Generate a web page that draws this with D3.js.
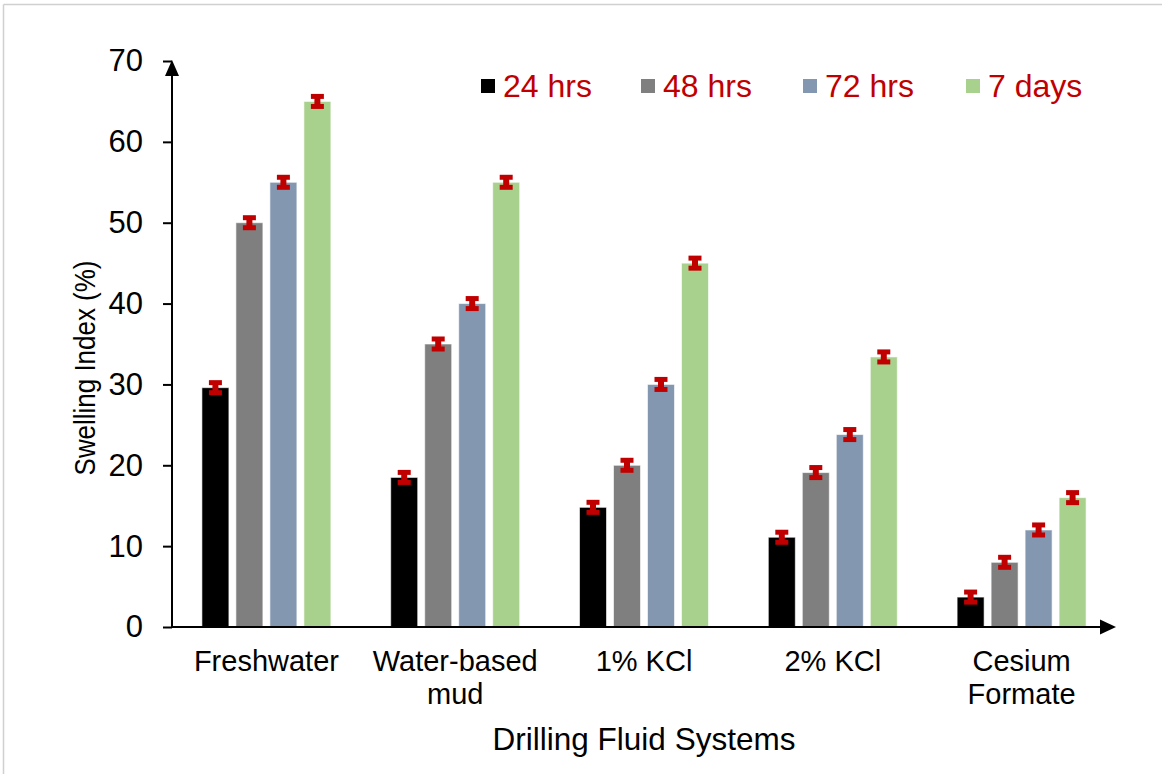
<!DOCTYPE html>
<html><head><meta charset="utf-8">
<script src="https://cdn.jsdelivr.net/npm/d3@7"></script>
<style>body{margin:0;background:#fff;} text{font-family:"Liberation Sans",Arial,sans-serif;}</style>
</head><body>
<svg id="c" width="1162" height="774"></svg>
<script>
const categories = [["Freshwater"], ["Water-based", "mud"], ["1% KCl"], ["2% KCl"], ["Cesium", "Formate"]];
const seriesNames = ["24 hrs", "48 hrs", "72 hrs", "7 days"];
const s24 = [29.6, 18.5, 14.8, 11.1, 3.7];
const s48 = [50, 35, 20, 19.1, 8];
const s72 = [55, 40, 30, 23.8, 12];
const s7d = [65, 55, 45, 33.4, 16];
const errors = [0.62, 0.62, 0.62, 0.62];
const yTicks = [0, 10, 20, 30, 40, 50, 60, 70];
const colors = ["#000000", "#7f7f7f", "#8497b0", "#a9d18e"];
const errColor = "#c00000";

const values = [s24, s48, s72, s7d];
const svg = d3.select("#c");

// frame lines
svg.append("line").attr("x1",3.5).attr("x2",1162).attr("y1",4.5).attr("y2",4.5).attr("stroke","#d0d0d0").attr("stroke-width",1.5);
svg.append("line").attr("x1",3.5).attr("x2",3.5).attr("y1",4.5).attr("y2",774).attr("stroke","#d0d0d0").attr("stroke-width",1.5);

const x0 = d3.scaleBand().domain(d3.range(categories.length)).range([172, 1116]).padding(0);
const x1 = d3.scaleBand().domain(d3.range(seriesNames.length)).range([0, x0.bandwidth()]).paddingInner(0.206).paddingOuter(0.88);
const y = d3.scaleLinear().domain([0, 70]).range([627, 61]);

// bars
const g = svg.append("g");
categories.forEach((c, ci) => {
  values.forEach((s, si) => {
    g.append("rect")
      .attr("x", x0(ci) + x1(si))
      .attr("y", y(s[ci]))
      .attr("width", x1.bandwidth())
      .attr("height", y(0) - y(s[ci]))
      .attr("fill", colors[si])
      .attr("stroke", "#ffffff").attr("stroke-opacity", 0.6).attr("stroke-width", 1);
  });
});
// error bars
categories.forEach((c, ci) => {
  values.forEach((s, si) => {
    const cx = x0(ci) + x1(si) + x1.bandwidth() / 2;
    const v = s[ci], e = errors[si];
    const eg = g.append("g");
    eg.append("line").attr("x1", cx).attr("x2", cx).attr("y1", y(v + e)).attr("y2", y(v - e)).attr("stroke", errColor).attr("stroke-width", 6);
    [v + e, v - e].forEach(t => {
      eg.append("line").attr("x1", cx - 6.5).attr("x2", cx + 6.5).attr("y1", y(t)).attr("y2", y(t)).attr("stroke", errColor).attr("stroke-width", 5);
    });
  });
});

// y axis
const yAxis = d3.axisLeft(y).tickValues(yTicks).tickSize(9).tickPadding(20).tickFormat(d3.format("d"));
const ya = svg.append("g").attr("transform", "translate(172,0)").call(yAxis);
ya.select(".domain").remove();
ya.selectAll(".tick line").attr("stroke", "#000").attr("stroke-width", 2);
ya.selectAll(".tick text").attr("font-size", 31).attr("fill", "#000").attr("font-family", "Liberation Sans, Arial, sans-serif");
svg.append("line").attr("x1",172).attr("x2",172).attr("y1",627).attr("y2",72).attr("stroke","#000").attr("stroke-width",2);
svg.append("path").attr("d","M172,60 L179,76 L165,76 Z").attr("fill","#000");

// x axis
svg.append("line").attr("x1",171).attr("x2",1104).attr("y1",627).attr("y2",627).attr("stroke","#000").attr("stroke-width",2);
svg.append("path").attr("d","M1116,627 L1100,619.5 L1100,634.5 Z").attr("fill","#000");

// category labels
categories.forEach((lines, ci) => {
  const t = svg.append("text").attr("text-anchor","middle").attr("font-size",29).attr("fill","#000");
  lines.forEach((ln, li) => {
    t.append("tspan").attr("x", x0(ci) + x0.bandwidth()/2).attr("y", 671 + li*33).text(ln);
  });
});

// axis titles
svg.append("text").attr("x", 644).attr("y", 750).attr("text-anchor","middle").attr("font-size",31.5).attr("fill","#000").text("Drilling Fluid Systems");
svg.append("text").attr("transform","translate(95,368) rotate(-90) scale(0.88,1)").attr("text-anchor","middle").attr("font-size",29.5).attr("fill","#000").text("Swelling Index (%)");

// legend
const legX = [481, 641, 803, 966];
seriesNames.forEach((n, i) => {
  svg.append("rect").attr("x", legX[i]).attr("y", 79).attr("width", 14).attr("height", 14).attr("fill", colors[i]);
  svg.append("text").attr("x", legX[i] + 22).attr("y", 97).attr("font-size", 32).attr("fill", errColor).text(n);
});
</script>
</body></html>
